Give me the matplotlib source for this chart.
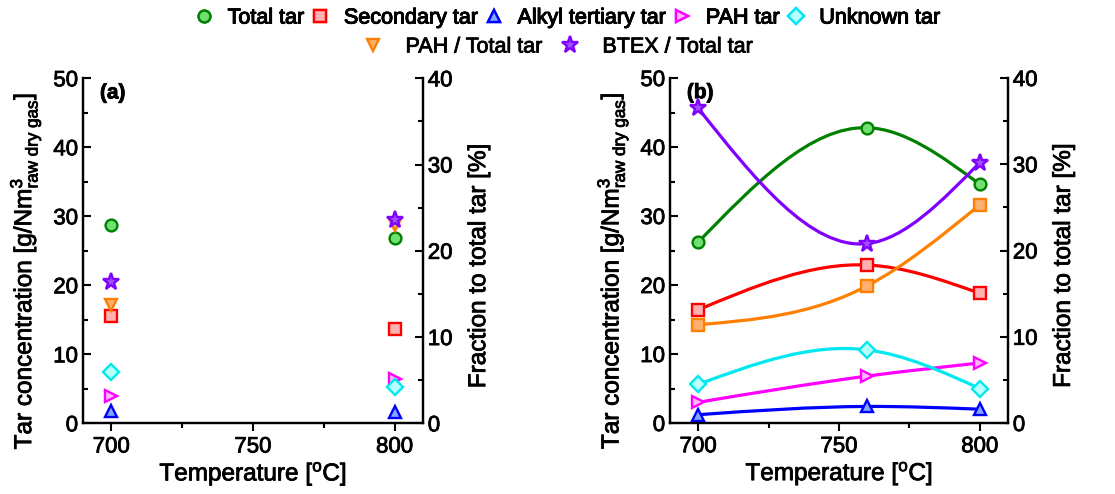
import numpy as np
import matplotlib
matplotlib.use("Agg")
import matplotlib.pyplot as plt
import matplotlib.patheffects as pe
from matplotlib.path import Path
from matplotlib.patches import PathPatch
from matplotlib.text import Text
from matplotlib.ticker import MultipleLocator

plt.rcParams['font.family'] = ['Liberation Sans', 'DejaVu Sans']
plt.rcParams['mathtext.fontset'] = 'custom'
plt.rcParams['mathtext.rm'] = 'Liberation Sans'
plt.rcParams['mathtext.it'] = 'Liberation Sans:italic'
plt.rcParams['mathtext.default'] = 'regular'

# Panel (a): two temperatures
temp_a = [700, 800]
a_total = [28.8, 26.9]
a_secondary = [15.6, 13.7]
a_alkyl = [1.8, 1.7]
a_pah = [4.0, 6.4]
a_unknown = [7.4, 5.2]
a_pah_frac = [13.7, 23.0]
a_btex_frac = [16.4, 23.6]

# Panel (b): three temperatures
temp_b = [700, 760, 800]
b_total = [26.2, 42.8, 34.6]
b_secondary = [16.4, 22.9, 18.8]
b_alkyl = [1.2, 2.4, 2.0]
b_pah = [3.0, 6.8, 8.7]
b_unknown = [5.6, 10.6, 5.0]
b_pah_frac = [11.4, 15.9, 25.3]
b_btex_frac = [36.5, 20.8, 30.2]

# (label, edge colour, face colour, marker)
styles = {
    'total': ('Total tar', '#008000', '#70e070', 'o'),
    'secondary': ('Secondary tar', '#ff0000', '#ffb0b0', 's'),
    'alkyl': ('Alkyl tertiary tar', '#0000ff', '#80a8ff', '^'),
    'pah': ('PAH tar', '#ff00ff', '#ffb8ff', '>'),
    'unknown': ('Unknown tar', '#00e8f0', '#b8ffff', 'D'),
    'pah_frac': ('PAH / Total tar', '#ff8000', '#ffb070', 'v'),
    'btex_frac': ('BTEX / Total tar', '#8000ff', '#a050ff', '*'),
}


def spline_path(x, y):
    """Natural cubic spline through the points, as a bezier path."""
    x = np.asarray(x, float)
    y = np.asarray(y, float)
    n = len(x)
    h = np.diff(x)
    s = np.diff(y) / h
    M = np.zeros(n)
    if n > 2:
        A = np.zeros((n - 2, n - 2))
        r = np.zeros(n - 2)
        for i in range(1, n - 1):
            A[i - 1, i - 1] = 2 * (h[i - 1] + h[i])
            if i > 1:
                A[i - 1, i - 2] = h[i - 1]
            if i < n - 2:
                A[i - 1, i] = h[i]
            r[i - 1] = 6 * (s[i] - s[i - 1])
        M[1:-1] = np.linalg.solve(A, r)
    verts = [(x[0], y[0])]
    codes = [Path.MOVETO]
    for i in range(n - 1):
        d0 = s[i] - h[i] * (2 * M[i] + M[i + 1]) / 6
        d1 = s[i] + h[i] * (M[i] + 2 * M[i + 1]) / 6
        verts += [(x[i] + h[i] / 3, y[i] + d0 * h[i] / 3),
                  (x[i + 1] - h[i] / 3, y[i + 1] - d1 * h[i] / 3),
                  (x[i + 1], y[i + 1])]
        codes += [Path.CURVE4] * 3
    return Path(verts, codes)


def draw(ax, key, x, y, curve=False, marker=None):
    label, ec, fc, m = styles[key]
    if marker is not None:
        m = marker
    if curve:
        ax.add_patch(PathPatch(spline_path(x, y), fill=False, edgecolor=ec,
                               lw=2.3, zorder=2))
    ms = 12.5 if m == '*' else 8.5
    line, = ax.plot(x, y, linestyle='none', marker=m, ms=ms, mec=ec, mfc=fc,
                    mew=1.7, label=label, zorder=3)
    return line


def style_axes(ax, ax2, tag):
    ax.set_xlim(690, 810)
    ax.set_ylim(0, 50)
    ax2.set_ylim(0, 40)
    ax.set_xticks([700, 750, 800])
    ax.xaxis.set_minor_locator(MultipleLocator(25))
    ax.yaxis.set_major_locator(MultipleLocator(10))
    ax.yaxis.set_minor_locator(MultipleLocator(5))
    ax2.yaxis.set_major_locator(MultipleLocator(10))
    ax2.yaxis.set_minor_locator(MultipleLocator(5))
    ax.spines['top'].set_visible(False)
    ax2.spines['top'].set_visible(False)
    for a in (ax, ax2):
        for sp in a.spines.values():
            sp.set_linewidth(1.6)
    ax.tick_params(axis='y', which='both', direction='in', width=1.5, labelsize=16)
    ax.tick_params(axis='y', which='major', length=6)
    ax.tick_params(axis='y', which='minor', length=3.5)
    ax.tick_params(axis='x', which='both', direction='out', width=1.5, labelsize=16)
    ax.tick_params(axis='x', which='major', length=6)
    ax.tick_params(axis='x', which='minor', length=3.5)
    ax2.tick_params(axis='y', which='both', direction='in', width=1.5, labelsize=16)
    ax2.tick_params(axis='y', which='major', length=6)
    ax2.tick_params(axis='y', which='minor', length=3.5)
    ax.set_xlabel('Temperature [$^{o}$C]', fontsize=17.5, labelpad=2)
    ax.set_ylabel('Tar concentration [g/Nm$^{3}_{raw\\ dry\\ gas}$]', fontsize=17.5)
    ax.yaxis.set_label_coords(-0.118, 0.44)
    ax2.set_ylabel('Fraction to total tar [%]', fontsize=17.5)
    ax2.yaxis.set_label_coords(1.133, 0.455)
    ax.text(0.05, 0.985, tag, transform=ax.transAxes, fontsize=15,
            fontweight='bold', va='top', ha='left')


fig = plt.figure(figsize=(11.15, 4.94), dpi=100)
ax_a = fig.add_axes([0.0744, 0.1431, 0.3049, 0.6984])
ax_a2 = ax_a.twinx()
ax_b = fig.add_axes([0.6009, 0.1437, 0.3031, 0.6984])
ax_b2 = ax_b.twinx()

# panel (a): markers only
h_total = draw(ax_a, 'total', temp_a, a_total)
h_sec = draw(ax_a, 'secondary', temp_a, a_secondary)
h_alk = draw(ax_a, 'alkyl', temp_a, a_alkyl)
h_pah = draw(ax_a, 'pah', temp_a, a_pah)
h_unk = draw(ax_a, 'unknown', temp_a, a_unknown)
h_pahf = draw(ax_a2, 'pah_frac', temp_a, a_pah_frac)
h_btex = draw(ax_a2, 'btex_frac', temp_a, a_btex_frac)

# panel (b): smooth curves through markers
draw(ax_b, 'total', temp_b, b_total, curve=True)
draw(ax_b, 'secondary', temp_b, b_secondary, curve=True)
draw(ax_b, 'alkyl', temp_b, b_alkyl, curve=True)
draw(ax_b, 'pah', temp_b, b_pah, curve=True)
draw(ax_b, 'unknown', temp_b, b_unknown, curve=True)
draw(ax_b2, 'pah_frac', temp_b, b_pah_frac, curve=True, marker='s')
draw(ax_b2, 'btex_frac', temp_b, b_btex_frac, curve=True)

style_axes(ax_a, ax_a2, '(a)')
style_axes(ax_b, ax_b2, '(b)')

leg1 = fig.legend(handles=[h_total, h_sec, h_alk, h_pah, h_unk], loc='center',
                  bbox_to_anchor=(0.508, 1 - 18 / 494), ncol=5, frameon=False,
                  fontsize=15.5, handlelength=1.0, handletextpad=0.6,
                  columnspacing=0.25, borderpad=0.1)
fig.legend(handles=[h_pahf, h_btex], loc='center',
           bbox_to_anchor=(0.5, 1 - 47 / 494), ncol=2, frameon=False,
           fontsize=15.5, handlelength=1.0, handletextpad=1.0,
           columnspacing=0.8, borderpad=0.1)
fig.add_artist(leg1)

# slightly heavier glyphs, like the reference rendering
for t in fig.findobj(Text):
    t.set_path_effects([pe.withStroke(linewidth=0.6, foreground='black')])

fig.savefig('out.png', dpi=100)
